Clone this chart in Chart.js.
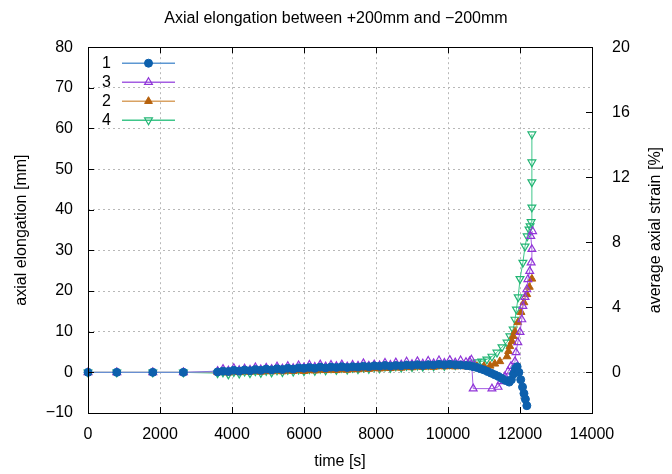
<!DOCTYPE html>
<html>
<head>
<meta charset="utf-8">
<script src="https://cdn.jsdelivr.net/npm/chart.js@4.4.1/dist/chart.umd.min.js"></script>
<style>
  body { margin: 0; background: #fff; }
  #wrap { width: 672px; height: 474px; }
</style>
</head>
<body>
<div id="wrap"><canvas id="elongChart" width="672" height="474"></canvas></div>
<script>
// sampling times [s] shared by all gauges until ~10500 s
const baseTimes = [0, 800, 1800, 2650, 3600, 3750, 3900, 4050, 4200, 4350, 4500, 4650, 4800, 4950,
  5100, 5250, 5400, 5550, 5700, 5850, 6000, 6150, 6300, 6450, 6600, 6750, 6900, 7050, 7200, 7350,
  7500, 7650, 7800, 7950, 8100, 8250, 8400, 8550, 8700, 8850, 9000, 9150, 9300, 9450, 9600, 9750,
  9900, 10050, 10200, 10350, 10500];

// axial elongation [mm] at baseTimes
const elong1 = [0, 0, 0, 0, 0.1, 0.3, 0.2, 0.5, 0.3, 0.6, 0.4, 0.7, 0.5, 0.8,
  0.6, 0.9, 0.7, 1.0, 0.8, 1.1, 1.0, 1.2, 1.0, 1.3, 1.1, 1.3, 1.2, 1.4, 1.2, 1.4,
  1.3, 1.5, 1.4, 1.6, 1.5, 1.7, 1.5, 1.7, 1.6, 1.8, 1.7, 1.9, 1.7, 1.9, 1.8, 2.0,
  1.9, 2.0, 1.9, 1.8, 1.7];
const elong3 = [0, 0, 0, 0, 0.3, 0.8, 0.4, 1.0, 0.5, 0.9, 0.6, 1.2, 0.7, 1.1,
  0.8, 1.4, 0.9, 1.5, 1.0, 1.7, 1.2, 1.8, 1.3, 1.9, 1.4, 1.8, 1.5, 1.9, 1.4, 1.8,
  1.6, 2.2, 1.6, 1.9, 1.7, 2.3, 1.8, 2.4, 1.9, 2.6, 2.0, 2.7, 2.1, 2.8, 2.2, 2.9,
  2.3, 3.0, 2.4, 2.9, 2.5];
const elong2 = [0, 0, 0, 0, 0.0, 0.1, -0.1, 0.2, 0.0, 0.2, 0.1, 0.3, 0.1, 0.3,
  0.2, 0.4, 0.2, 0.4, 0.3, 0.5, 0.3, 0.5, 0.4, 0.6, 0.5, 0.6, 0.5, 0.7, 0.6, 0.8,
  0.7, 0.9, 0.8, 1.0, 0.9, 1.1, 1.0, 1.2, 1.1, 1.3, 1.2, 1.4, 1.3, 1.4, 1.3, 1.5,
  1.4, 1.5, 1.4, 1.5, 1.4];
const elong4 = [0, 0, 0, 0, -0.2, 0.0, -0.5, 0.1, -0.3, 0.2, -0.2, 0.3, -0.1, 0.4,
  0.0, 0.5, 0.1, 0.6, 0.2, 0.7, 0.3, 0.8, 0.4, 0.9, 0.5, 1.0, 0.6, 1.1, 0.7, 1.1,
  0.8, 1.2, 0.9, 1.3, 1.0, 1.4, 1.1, 1.5, 1.2, 1.6, 1.3, 1.7, 1.4, 1.8, 1.5, 1.9,
  1.6, 2.0, 1.8, 2.1, 2.0];

// failure phase: each gauge has its own time stamps
const tailTimes1 = [10600, 10700, 10800, 10900, 11000, 11100, 11200, 11300, 11400, 11500, 11600,
  11700, 11760, 11820, 11870, 11920, 11970, 12020, 12070, 12110, 12150, 12190];
const tailElong1 = [1.6, 1.4, 1.2, 0.9, 0.6, 0.2, -0.2, -0.6, -1.0, -1.5, -2.0,
  -2.4, -1.8, -0.4, 0.9, 1.4, 0.0, -1.8, -3.6, -5.2, -6.6, -8.2];
const tailTimes3 = [10600, 10650, 10700, 11220, 11390, 11470, 11580, 11670, 11750, 11860, 11890, 11940,
  12000, 12050, 12080, 12140, 12190, 12220, 12270, 12310, 12330, 12300, 12350];
const tailElong3 = [2.7, 3.1, -4.0, -4.0, -3.6, -2.2, -1.0, 0.2, 1.5, 2.7, 4.9, 7.4,
  9.9, 13.0, 16.3, 18.5, 20.4, 22.9, 24.9, 27.0, 30.3, 33.5, 34.7];
const tailTimes2 = [10650, 10800, 11000, 11170, 11300, 11440, 11640, 11680, 11720, 11780, 11810, 11860,
  11940, 12030, 12110, 12190, 12260, 12330];
const tailElong2 = [1.4, 1.5, 1.5, 1.6, 2.1, 2.7, 3.9, 5.2, 6.4, 7.6, 8.9, 10.0,
  12.3, 14.8, 17.2, 19.2, 21.0, 23.0];
const tailTimes4 = [10650, 10810, 10940, 11080, 11220, 11360, 11500, 11640, 11720, 11810, 11860, 11900,
  11950, 12000, 12080, 12140, 12200, 12250, 12280, 12310, 12330, 12330, 12330, 12330];
const tailElong4 = [2.2, 2.5, 2.7, 3.2, 3.9, 4.9, 6.2, 7.4, 8.9, 10.6, 13.0, 15.5,
  18.5, 23.0, 27.0, 31.0, 33.5, 35.2, 36.0, 37.0, 40.6, 46.8, 51.7, 58.6];

// tick values
const timeTicks = [0, 2000, 4000, 6000, 8000, 10000, 12000, 14000];
const elongTicks = [-10, 0, 10, 20, 30, 40, 50, 60, 70, 80];
const strainTicks = [0, 4, 8, 12, 16, 20];

const FONT = '"Liberation Sans", Arial, sans-serif';

function toPoints(times, vals, tTimes, tVals) {
  const pts = times.map((t, i) => ({ x: t, y: vals[i] }));
  return pts.concat(tTimes.map((t, i) => ({ x: t, y: tVals[i] })));
}

function minusSign(v) {
  return v < 0 ? '\u2212' + Math.abs(v) : String(v);
}

// gnuplot-like frame with inward ticks
const frameTicks = {
  id: 'frameTicks',
  afterDatasetsDraw(chart) {
    const { ctx, chartArea: a, scales } = chart;
    ctx.save();
    ctx.strokeStyle = '#000';
    ctx.lineWidth = 1;
    ctx.beginPath();
    scales.x.ticks.forEach(t => {
      const px = Math.round(scales.x.getPixelForValue(t.value)) + 0.5;
      ctx.moveTo(px, a.bottom); ctx.lineTo(px, a.bottom - 6);
      ctx.moveTo(px, a.top); ctx.lineTo(px, a.top + 6);
    });
    scales.y.ticks.forEach(t => {
      const py = Math.round(scales.y.getPixelForValue(t.value)) + 0.5;
      ctx.moveTo(a.left, py); ctx.lineTo(a.left + 6, py);
    });
    scales.y2.ticks.forEach(t => {
      const py = Math.round(scales.y2.getPixelForValue(t.value)) + 0.5;
      ctx.moveTo(a.right, py); ctx.lineTo(a.right - 6, py);
    });
    ctx.stroke();
    ctx.strokeRect(Math.round(a.left) + 0.5, Math.round(a.top) + 0.5,
      Math.round(a.width), Math.round(a.height));

    // y2 label reads bottom-to-top like the left one
    ctx.fillStyle = '#000';
    ctx.font = '16px ' + FONT;
    ctx.textAlign = 'center';
    ctx.textBaseline = 'middle';
    ctx.translate(656, (a.top + a.bottom) / 2);
    ctx.rotate(-Math.PI / 2);
    ctx.fillText('average axial strain [%]', 0, 0);
    ctx.restore();
  }
};

// key box in the upper left corner (label on the left of the sample)
const insideLegend = {
  id: 'insideLegend',
  afterDraw(chart) {
    const { ctx, chartArea: a } = chart;
    chart.data.datasets.forEach((ds, i) => {
      const y = a.top + 16 + i * 19;
      const x0 = a.left + 34, x1 = a.left + 87;
      ctx.save();
      ctx.fillStyle = '#000';
      ctx.font = '16px ' + FONT;
      ctx.textAlign = 'right';
      ctx.textBaseline = 'middle';
      ctx.fillText(ds.label, a.left + 23, y);
      ctx.strokeStyle = ds.borderColor;
      ctx.lineWidth = 1.5;
      ctx.beginPath();
      ctx.moveTo(x0, y); ctx.lineTo(x1, y);
      ctx.stroke();
      ctx.strokeStyle = ds.pointBorderColor;
      ctx.fillStyle = ds.pointBackgroundColor;
      ctx.lineWidth = ds.pointBorderWidth;
      Chart.helpers.drawPoint(ctx, {
        pointStyle: ds.pointStyle, radius: ds.pointRadius,
        rotation: ds.pointRotation || 0, borderWidth: ds.pointBorderWidth
      }, (x0 + x1) / 2, y);
      ctx.restore();
    });
  }
};

const ctx = document.getElementById('elongChart').getContext('2d');
new Chart(ctx, {
  type: 'line',
  data: {
    datasets: [{
      label: '1',
      data: toPoints(baseTimes, elong1, tailTimes1, tailElong1),
      borderColor: '#5d97d2',
      borderWidth: 1,
      pointStyle: 'circle',
      pointRadius: 4,
      pointBorderWidth: 1,
      pointBorderColor: '#0d60ad',
      pointBackgroundColor: '#0d60ad'
    }, {
      label: '3',
      data: toPoints(baseTimes, elong3, tailTimes3, tailElong3),
      borderColor: '#a45ee2',
      borderWidth: 1,
      pointStyle: 'triangle',
      pointRadius: 4.5,
      pointBorderWidth: 1.2,
      pointBorderColor: '#9135d8',
      pointBackgroundColor: 'rgba(255,255,255,0)'
    }, {
      label: '2',
      data: toPoints(baseTimes, elong2, tailTimes2, tailElong2),
      borderColor: '#d9a263',
      borderWidth: 1,
      pointStyle: 'triangle',
      pointRadius: 4.5,
      pointBorderWidth: 1,
      pointBorderColor: '#b6610d',
      pointBackgroundColor: '#b6610d'
    }, {
      label: '4',
      data: toPoints(baseTimes, elong4, tailTimes4, tailElong4),
      borderColor: '#3fc68a',
      borderWidth: 1,
      pointStyle: 'triangle',
      pointRotation: 180,
      pointRadius: 4.5,
      pointBorderWidth: 1.2,
      pointBorderColor: '#22b574',
      pointBackgroundColor: 'rgba(255,255,255,0)'
    }]
  },
  options: {
    responsive: false,
    devicePixelRatio: 1,
    animation: false,
    events: [],
    clip: 8,
    layout: { padding: 0 },
    elements: { line: { tension: 0 } },
    plugins: {
      legend: { display: false },
      tooltip: { enabled: false },
      title: {
        display: true,
        text: 'Axial elongation between +200mm and \u2212200mm',
        color: '#000',
        font: { family: FONT, size: 16, weight: 'normal' },
        padding: { top: 9, bottom: 19 }
      }
    },
    scales: {
      x: {
        type: 'linear',
        min: 0, max: 14000,
        afterBuildTicks: s => { s.ticks = timeTicks.map(v => ({ value: v })); },
        afterFit: s => { s.height = 61; },
        ticks: { color: '#000', font: { family: FONT, size: 16 }, padding: 12, maxRotation: 0,
          callback: v => minusSign(v) },
        grid: { color: '#b8b8b8', lineWidth: 1, drawTicks: false },
        border: { display: false, dash: [2, 3] },
        title: { display: true, text: 'time [s]', color: '#000',
          font: { family: FONT, size: 16 }, padding: { top: 0, bottom: 3 } }
      },
      y: {
        position: 'left',
        min: -10, max: 80,
        afterBuildTicks: s => { s.ticks = elongTicks.map(v => ({ value: v })); },
        afterFit: s => { s.width = 88; },
        ticks: { color: '#000', font: { family: FONT, size: 16 }, padding: 15,
          callback: v => minusSign(v) },
        grid: { color: '#b8b8b8', lineWidth: 1, drawTicks: false },
        border: { display: false, dash: [2, 3] },
        title: { display: true, text: 'axial elongation [mm]', color: '#000',
          font: { family: FONT, size: 16 }, padding: { top: 12, bottom: 0 } }
      },
      y2: {
        position: 'right',
        min: -2.5, max: 20,
        afterBuildTicks: s => { s.ticks = strainTicks.map(v => ({ value: v })); },
        afterFit: s => { s.width = 80; },
        ticks: { color: '#000', font: { family: FONT, size: 16 }, padding: 20,
          callback: v => minusSign(v) },
        grid: { drawOnChartArea: false, drawTicks: false },
        border: { display: false }
      }
    }
  },
  plugins: [frameTicks, insideLegend]
});
</script>
</body>
</html>
